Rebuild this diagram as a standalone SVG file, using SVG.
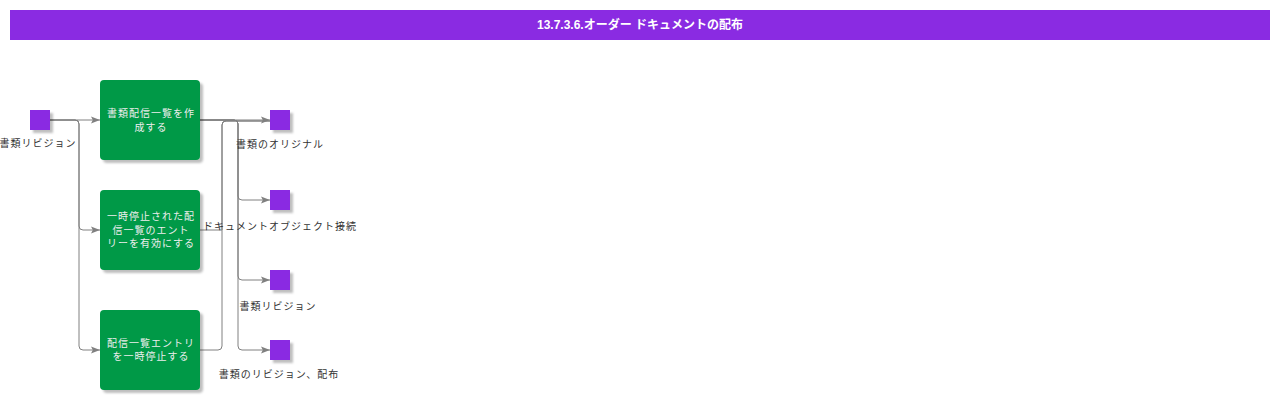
<svg xmlns="http://www.w3.org/2000/svg" width="1280" height="400" viewBox="0 0 1280 400">
<style>
.title{font-family:"Liberation Sans","Noto Sans CJK JP",sans-serif;font-size:12px;font-weight:bold;fill:#ffffff;}
.box{fill:#009947;}
.sq{fill:#8A2BE2;}
.bt{font-family:"Noto Sans CJK JP",sans-serif;font-size:10px;letter-spacing:1px;fill:#eeeeee;text-anchor:middle;}
.lb{font-family:"Noto Sans CJK JP",sans-serif;font-size:10px;letter-spacing:1px;fill:#333333;text-anchor:middle;}
.edge{fill:none;stroke:#808080;stroke-width:1;}
</style>
<defs>
<filter id="sh" x="-20%" y="-20%" width="150%" height="150%">
<feDropShadow dx="3" dy="3" stdDeviation="1.2" flood-color="#000000" flood-opacity="0.25"/>
</filter>
<marker id="ar" viewBox="0 0 10 10" refX="10" refY="5" markerWidth="9" markerHeight="9" markerUnits="userSpaceOnUse" orient="auto">
<path d="M0,1 L10,5 L0,9 L2,5 Z" fill="#808080"/>
</marker>
</defs>
<rect x="0" y="0" width="1280" height="400" fill="#ffffff"/>
<g id="title">
<rect x="10" y="10" width="1260" height="30" fill="#8A2BE2"/>
<text class="title" x="640" y="29" text-anchor="middle">13.7.3.6.オーダー ドキュメントの配布</text>
</g>
<g id="connectors">
<path class="edge" d="M50,120 L100,120" marker-end="url(#ar)"/>
<path class="edge" d="M50,120 L75,120 Q79,120 79,124 L79,226 Q79,230 83,230 L100,230" marker-end="url(#ar)"/>
<path class="edge" d="M50,120 L75,120 Q79,120 79,124 L79,346 Q79,350 83,350 L100,350" marker-end="url(#ar)"/>
<path class="edge" d="M200,120 L270,120" marker-end="url(#ar)"/>
<path class="edge" d="M200,120 L234,120 Q238,120 238,124 L238,196 Q238,200 242,200 L270,200" marker-end="url(#ar)"/>
<path class="edge" d="M200,120 L234,120 Q238,120 238,124 L238,276 Q238,280 242,280 L270,280" marker-end="url(#ar)"/>
<path class="edge" d="M200,120 L234,120 Q238,120 238,124 L238,346 Q238,350 242,350 L270,350" marker-end="url(#ar)"/>
<path class="edge" d="M200,230 L222,230 L222,125 Q222,121 226,121 L270,121"/>
<path class="edge" d="M200,350 L218,350 Q222,350 222,346 L222,125 Q222,121 226,121 L270,121"/>
</g>
<g id="in1">
<rect class="sq" x="30" y="110" width="20" height="20" filter="url(#sh)"/>
<text class="lb" x="38" y="147">書類リビジョン</text>
</g>
<g id="box1">
<rect class="box" x="100" y="80" width="100" height="80" rx="4" filter="url(#sh)"/>
<text class="bt" x="151" y="117">書類配信一覧を作</text>
<text class="bt" x="151" y="131">成する</text>
</g>
<g id="box2">
<rect class="box" x="100" y="190" width="100" height="80" rx="4" filter="url(#sh)"/>
<text class="bt" x="151" y="220">一時停止された配</text>
<text class="bt" x="151" y="234">信一覧のエント</text>
<text class="bt" x="151" y="247">リーを有効にする</text>
</g>
<g id="box3">
<rect class="box" x="100" y="310" width="100" height="80" rx="4" filter="url(#sh)"/>
<text class="bt" x="151" y="347">配信一覧エントリ</text>
<text class="bt" x="151" y="360">を一時停止する</text>
</g>
<g id="out1">
<rect class="sq" x="270" y="110" width="20" height="20" filter="url(#sh)"/>
<text class="lb" x="280" y="148">書類のオリジナル</text>
</g>
<g id="out2">
<rect class="sq" x="270" y="190" width="20" height="20" filter="url(#sh)"/>
<text class="lb" x="280" y="230">ドキュメントオブジェクト接続</text>
</g>
<g id="out3">
<rect class="sq" x="270" y="270" width="20" height="20" filter="url(#sh)"/>
<text class="lb" x="278" y="310">書類リビジョン</text>
</g>
<g id="out4">
<rect class="sq" x="270" y="340" width="20" height="20" filter="url(#sh)"/>
<text class="lb" x="279" y="378">書類のリビジョン、配布</text>
</g>
</svg>
